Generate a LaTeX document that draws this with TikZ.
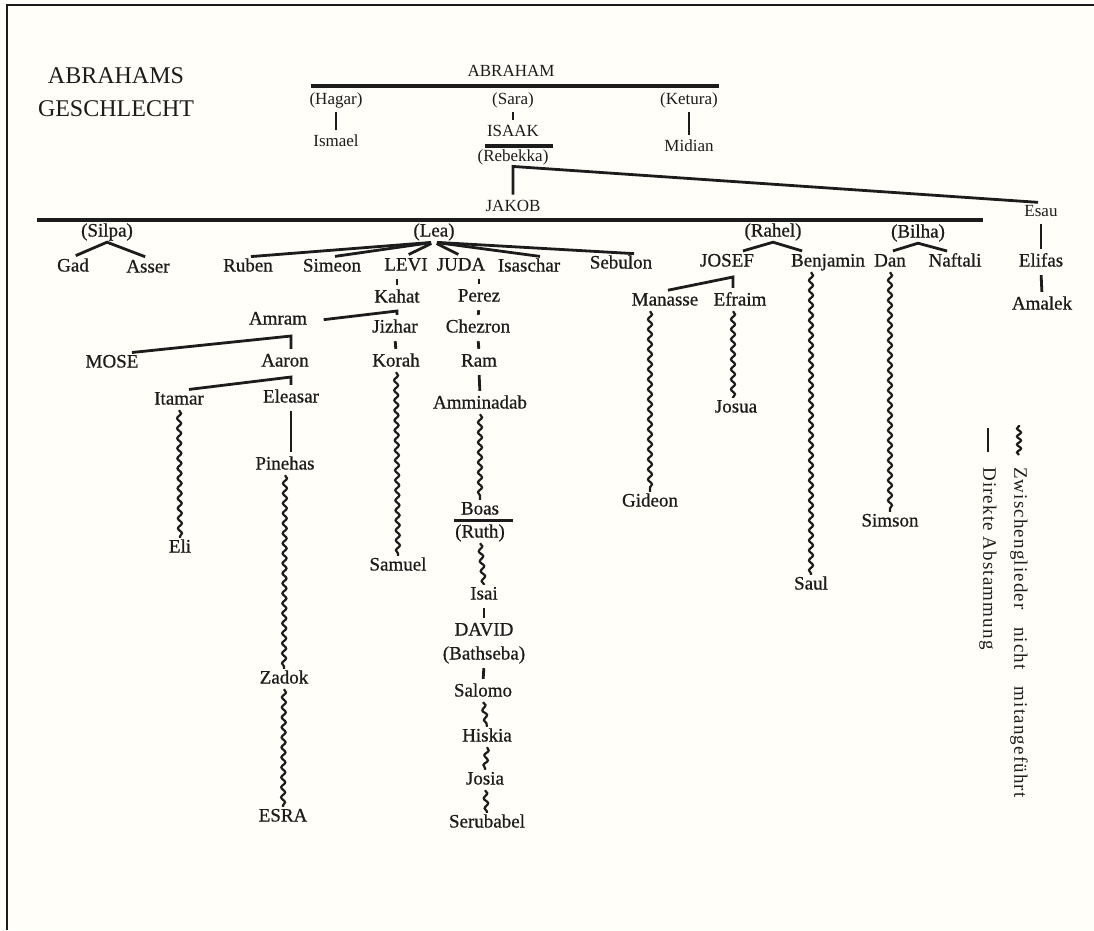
\documentclass[tikz,border=0pt]{standalone}
\usepackage{fontspec}
\setmainfont{Liberation Serif}
\newfontfamily\heavyfont[FakeBold=0.7]{Liberation Serif}
\newfontfamily\legendfont[LetterSpace=6]{Liberation Serif}
\usetikzlibrary{decorations.pathmorphing}
\definecolor{ink}{HTML}{1C1C1C}
\definecolor{paper}{HTML}{FFFEF8}
\newcommand{\namefont}{\heavyfont\fontsize{19}{22}\selectfont}
\newcommand{\toprowfont}{\fontsize{17}{20}\selectfont}

\begin{document}
\begin{tikzpicture}[x=1pt, y=-1pt,
  person/.style={inner sep=1.5pt, text=ink, font=\namefont, text height=13pt, text depth=4pt},
  elder/.style={person, font=\toprowfont, text height=12pt, text depth=3.5pt},
  direct/.style={draw=ink, line width=2.8pt, shorten <=3pt, shorten >=3pt},
  bar/.style={draw=ink, line width=3.2pt},
  wavy/.style={draw=ink, line width=2.2pt, decorate, decoration={snake, segment length=10pt, amplitude=2pt}},
  legendtext/.style={text=ink, font=\legendfont\fontsize{19}{22}\selectfont, rotate=-90, anchor=west, inner sep=0pt}
]
\useasboundingbox (0,0) rectangle (1094,930);
\fill[paper] (0,0) rectangle (1094,930);
\draw[ink, line width=2pt] (1094,5) -- (7,5) -- (7,930);

\node[text=ink, font=\fontsize{24}{33}\selectfont, align=center] (title) at (116,92) {ABRAHAMS\\GESCHLECHT};

% Abraham und Isaak
\node[elder] (abraham) at (511,72) {ABRAHAM};
\node[elder] (hagar) at (336,100) {(Hagar)};
\node[elder] (sara) at (513,100) {(Sara)};
\node[elder] (ketura) at (689,100) {(Ketura)};
\node[elder] (ismael) at (336,142) {Ismael};
\node[elder] (isaak) at (513,132) {ISAAK};
\node[elder] (rebekka) at (513,157) {(Rebekka)};
\node[elder] (midian) at (689,147) {Midian};
\node[elder] (jakob) at (513,207) {JAKOB};
\node[elder] (esau) at (1041,212) {Esau};

\draw[bar] ([shift={(-200,14)}]abraham.center) -- ([shift={(208,14)}]abraham.center);
\draw[direct] (hagar.south) -- (ismael.north);
\draw[direct] (sara.south) -- (isaak.north);
\draw[direct] (ketura.south) -- (midian.north);
\draw[bar] ([shift={(-28,14)}]isaak.center) -- ([shift={(40,14)}]isaak.center);
\draw[direct] (jakob.north) -- (rebekka.south) -- (esau.north);
\draw[bar] ([shift={(-476,13)}]jakob.center) -- ([shift={(470,13)}]jakob.center);

% Frauen Jakobs
\node[person] (silpa) at (107,232) {(Silpa)};
\node[person] (lea) at (434,232) {(Lea)};
\node[person] (rahel) at (773,232) {(Rahel)};
\node[person] (bilha) at (918,233) {(Bilha)};

% Soehne Jakobs
\node[person] (gad) at (73,267) {Gad};
\node[person] (asser) at (148,268) {Asser};
\node[person] (ruben) at (248,267) {Ruben};
\node[person] (simeon) at (332,267) {Simeon};
\node[person] (levi) at (406,266) {LEVI};
\node[person] (juda) at (461,266) {JUDA};
\node[person] (isaschar) at (529,267) {Isaschar};
\node[person] (sebulon) at (621,264) {Sebulon};
\node[person] (josef) at (727,262) {JOSEF};
\node[person] (benjamin) at (828,262) {Benjamin};
\node[person] (dan) at (890,262) {Dan};
\node[person] (naftali) at (955,262) {Naftali};
\node[person] (elifas) at (1041,262) {Elifas};
\node[person] (amalek) at (1042,305) {Amalek};

\draw[direct] (gad.north) -- (silpa.south) -- (asser.north);
\foreach \son in {ruben, simeon, levi, juda}
  \draw[direct] (lea.south) -- (\son.north);
\draw[direct] (lea.south) -- ([xshift=14pt]isaschar.north);
\draw[direct] (lea.south) -- ([xshift=16pt]sebulon.north);
\draw[direct] ([xshift=13pt]josef.north) -- (rahel.south) -- ([xshift=-23pt]benjamin.north);
\draw[direct] (dan.north) -- (bilha.south) -- ([xshift=-5pt]naftali.north);
\draw[direct] (esau.south) -- (elifas.north);
\draw[direct] (elifas.south) -- (amalek.north);

% Levi
\node[person] (kahat) at (397,298) {Kahat};
\node[person] (amram) at (278,320) {Amram};
\node[person] (jizhar) at (395,328) {Jizhar};
\node[person] (mose) at (112,363) {MOSE};
\node[person] (aaron) at (285,362) {Aaron};
\node[person] (korah) at (396,362) {Korah};
\node[person] (itamar) at (179,400) {Itamar};
\node[person] (eleasar) at (291,398) {Eleasar};
\node[person] (pinehas) at (285,465) {Pinehas};
\node[person] (eli) at (180,548) {Eli};
\node[person] (samuel) at (398,566) {Samuel};
\node[person] (zadok) at (284,679) {Zadok};
\node[person] (esra) at (283,817) {ESRA};
\coordinate (kahatj) at (397,311);
\coordinate (amramj) at (291,336);
\coordinate (aaronj) at (291,377);

\draw[direct] (kahat.north |- levi.south) -- (kahat.north);
\draw[direct] ([xshift=12pt]amram.east) -- (kahatj) -- (kahatj |- jizhar.north);
\draw[direct] (jizhar.south) -- (korah.north);
\draw[direct] ([xshift=17pt]mose.north) -- (amramj) -- (amramj |- aaron.north);
\draw[direct] ([xshift=7pt]itamar.north) -- (aaronj) -- (aaronj |- eleasar.north);
\draw[direct] (eleasar.south) -- (eleasar.south |- pinehas.north);
\draw[wavy] (korah.south) -- (samuel.north);
\draw[wavy] (itamar.south) -- (eli.north);
\draw[wavy] (pinehas.south) -- (zadok.north);
\draw[wavy] (zadok.south) -- (esra.north);

% Juda
\node[person] (perez) at (479,297) {Perez};
\node[person] (chezron) at (478,328) {Chezron};
\node[person] (ram) at (479,362) {Ram};
\node[person] (amminadab) at (480,404) {Amminadab};
\node[person] (boas) at (480,510) {Boas};
\node[person] (ruth) at (480,533) {(Ruth)};
\node[person] (isai) at (484,595) {Isai};
\node[person] (david) at (484,631) {DAVID};
\node[person] (bathseba) at (484,655) {(Bathseba)};
\node[person] (salomo) at (483,692) {Salomo};
\node[person] (hiskia) at (487,737) {Hiskia};
\node[person] (josia) at (485,780) {Josia};
\node[person] (serubabel) at (487,823) {Serubabel};

\draw[direct] (perez.north |- juda.south) -- (perez.north);
\draw[direct] (perez.south) -- (chezron.north);
\draw[direct] (chezron.south) -- (ram.north);
\draw[direct] (ram.south) -- (amminadab.north);
\draw[wavy] (amminadab.south) -- (boas.north);
\draw[bar] ([xshift=-26pt]boas.south) -- ([xshift=33pt]boas.south);
\draw[wavy] (ruth.south) -- (isai.north);
\draw[direct] (isai.south) -- (david.north);
\draw[direct] (bathseba.south) -- (salomo.north);
\draw[wavy] (salomo.south) -- (hiskia.north);
\draw[wavy] (hiskia.south) -- (josia.north);
\draw[wavy] (josia.south) -- (serubabel.north);

% Josef, Benjamin, Dan
\node[person] (manasse) at (665,301) {Manasse};
\node[person] (efraim) at (740,301) {Efraim};
\node[person] (josua) at (736,408) {Josua};
\node[person] (gideon) at (650,502) {Gideon};
\node[person] (saul) at (811,585) {Saul};
\node[person] (simson) at (890,522) {Simson};
\coordinate (josefj) at (733,277);

\draw[direct] (manasse.north) -- (josefj) -- (josefj |- efraim.north);
\draw[wavy] (josefj |- efraim.south) -- (josefj |- josua.north);
\draw[wavy] (gideon.north |- manasse.south) -- (gideon.north);
\draw[wavy] (saul.north |- benjamin.south) -- (saul.north);
\draw[wavy] (dan.south) -- (dan.south |- simson.north);

% Legende
\node[legendtext] (legzw) at (1019,467) {Zwischenglieder\hspace{0.6em} nicht\hspace{0.6em} mitangeführt};
\node[legendtext] (legdir) at (988,467) {Direkte Abstammung};
\draw[wavy, decoration={segment length=8pt}] ([yshift=12pt]legzw.west) -- ([yshift=42pt]legzw.west);
\draw[direct] ([yshift=12pt]legdir.west) -- ([yshift=42pt]legdir.west);
\end{tikzpicture}
\end{document}
